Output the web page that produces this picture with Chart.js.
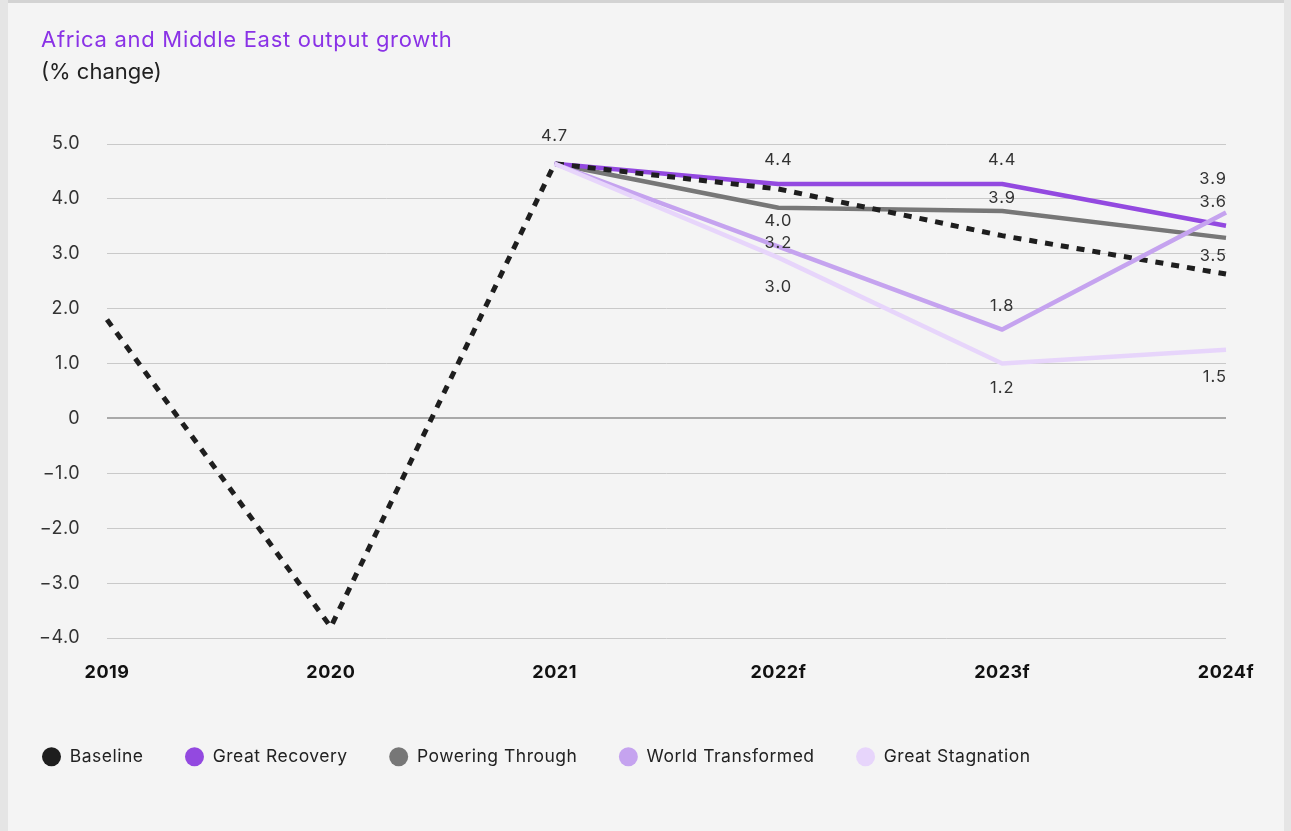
<!DOCTYPE html>
<html>
<head>
<meta charset="utf-8">
<script src="https://cdn.jsdelivr.net/npm/chart.js@4/dist/chart.umd.min.js"></script>
<style>
  html, body { margin: 0; padding: 0; background: #f4f4f4; width: 1291px; height: 831px; overflow: hidden; }
  #wrap { position: relative; width: 1291px; height: 831px; }
  canvas { position: absolute; left: 0; top: 0; }
  .strip { position: absolute; }
  #title { position: absolute; left: 41px; top: 24px; font-family: Inter, "Noto Sans", sans-serif; font-size: 22px; letter-spacing: 0.7px; color: #8a32e6; line-height: 30px; white-space: nowrap; }
  #subtitle { position: absolute; left: 41px; top: 56px; font-family: Inter, "Noto Sans", sans-serif; font-size: 22px; color: #222; line-height: 30px; white-space: nowrap; }
</style>
</head>
<body>
<div id="wrap">
  <canvas id="c" width="1291" height="831"></canvas>
  <div class="strip" style="left:0;top:0;width:8px;height:831px;background:#e5e5e5"></div>
  <div class="strip" style="left:1284px;top:0;width:7px;height:831px;background:#e5e5e5"></div>
  <div class="strip" style="left:8px;top:0;width:1276px;height:3px;background:#d3d3d3"></div>
  <div id="title">Africa and Middle East output growth</div>
  <div id="subtitle">(% change)</div>
</div>
<script>
// ---- data ----
const categories = ['2019', '2020', '2021', '2022f', '2023f', '2024f'];
const seriesNames = ['Baseline', 'Great Recovery', 'Powering Through', 'World Transformed', 'Great Stagnation'];
const baseline         = [1.8, -3.8, 4.64, 4.18, 3.33, 2.63];
const greatRecovery    = [null, null, 4.64, 4.27, 4.27, 3.51];
const poweringThrough  = [null, null, 4.64, 3.84, 3.78, 3.29];
const worldTransformed = [null, null, 4.64, 3.13, 1.62, 3.75];
const greatStagnation  = [null, null, 4.64, 2.93, 1.00, 1.25];
const yTickValues = [5, 4, 3, 2, 1, 0, -1, -2, -3, -4];
const yTickLabels = ['5.0', '4.0', '3.0', '2.0', '1.0', '0', '\u22121.0', '\u22122.0', '\u22123.0', '\u22124.0'];
// value labels as printed on the chart (category, y-position in data units, text)
const labelCats  = ['2021', '2022f', '2022f', '2022f', '2022f', '2023f', '2023f', '2023f', '2023f', '2024f', '2024f', '2024f', '2024f'];
const labelPosY  = [5.15, 4.71, 3.60, 3.20, 2.40, 4.71, 4.02, 2.04, 0.55, 4.36, 3.95, 2.96, 0.76];
const labelTexts = ['4.7', '4.4', '4.0', '3.2', '3.0', '4.4', '3.9', '1.8', '1.2', '3.9', '3.6', '3.5', '1.5'];

const colors = ['#1e1e1e', '#9349e0', '#777777', '#c5a3ef', '#e7d5fb'];
const drawOrder = [2, 3, 4, 1, 0];
const seriesData = [baseline, greatRecovery, poweringThrough, worldTransformed, greatStagnation];

const FONT = 'Inter, "Noto Sans", sans-serif';

const datasets = seriesNames.map((name, i) => ({
  label: name,
  data: seriesData[i],
  borderColor: colors[i],
  backgroundColor: colors[i],
  borderWidth: i === 0 ? 5 : 4.5,
  borderDash: i === 0 ? [8, 8] : [],
  borderCapStyle: 'butt',
  borderJoinStyle: i === 0 ? 'miter' : 'round',
  pointRadius: 0,
  pointHoverRadius: 0,
  tension: 0,
  spanGaps: false,
  order: drawOrder[i]
}));

const spacing = {
  id: 'spacing',
  beforeUpdate(chart) { chart.ctx.letterSpacing = '0.5px'; },
  beforeDraw(chart) { chart.ctx.letterSpacing = '0.5px'; }
};

const valueLabels = {
  id: 'valueLabels',
  afterDatasetsDraw(chart) {
    const ctx = chart.ctx;
    const xs = chart.scales.x, ys = chart.scales.y;
    ctx.save();
    ctx.font = '16.5px ' + FONT;
    ctx.letterSpacing = '1px';
    ctx.fillStyle = '#333333';
    ctx.textBaseline = 'middle';
    labelTexts.forEach((t, i) => {
      const idx = categories.indexOf(labelCats[i]);
      const px = xs.getPixelForValue(idx);
      const py = ys.getPixelForValue(labelPosY[i]);
      const last = idx === categories.length - 1;
      ctx.textAlign = last ? 'right' : 'center';
      ctx.fillText(t, last ? px + 1 : px, py);
    });
    ctx.restore();
  }
};

new Chart(document.getElementById('c'), {
  type: 'line',
  data: { labels: categories, datasets },
  options: {
    responsive: false,
    animation: false,
    events: [],
    layout: { padding: { left: 0.5, right: 65, top: 144, bottom: 55.5 } },
    scales: {
      x: {
        offset: false,
        grid: { display: false, drawTicks: false },
        border: { display: false },
        ticks: { padding: 24, color: '#111', font: { family: FONT, size: 18, weight: 'bold' }, maxRotation: 0, autoSkip: false },
        afterFit(scale) { scale.height = 68.5; }
      },
      y: {
        min: -4, max: 5,
        afterBuildTicks(scale) { scale.ticks = yTickValues.map(v => ({ value: v })); },
        grid: {
          drawTicks: false,
          color: ctx => ctx.tick && ctx.tick.value === 0 ? '#a9a9a9' : '#c9c9c9',
          lineWidth: ctx => ctx.tick && ctx.tick.value === 0 ? 2 : 1
        },
        border: { display: false },
        ticks: {
          padding: 27,
          color: '#333',
          font: { family: FONT, size: 18 },
          callback: (v) => yTickLabels[yTickValues.indexOf(v)]
        },
        afterFit(scale) { scale.width = 106.5; }
      }
    },
    plugins: {
      title: { display: false },
      tooltip: { enabled: false },
      legend: {
        display: true,
        position: 'bottom',
        align: 'start',
        labels: {
          usePointStyle: true,
          pointStyle: 'circle',
          pointStyleWidth: 19,
          boxHeight: 13.4,
          padding: 41.5,
          color: '#222',
          font: { family: FONT, size: 17.5 },
          sort: (a, b) => a.datasetIndex - b.datasetIndex,
          generateLabels(chart) {
            const items = Chart.defaults.plugins.legend.labels.generateLabels(chart);
            items.forEach(it => { it.lineWidth = 0; it.lineDash = []; it.strokeStyle = 'rgba(0,0,0,0)'; });
            return items;
          }
        }
      }
    }
  },
  plugins: [spacing, valueLabels]
});
</script>
</body>
</html>
